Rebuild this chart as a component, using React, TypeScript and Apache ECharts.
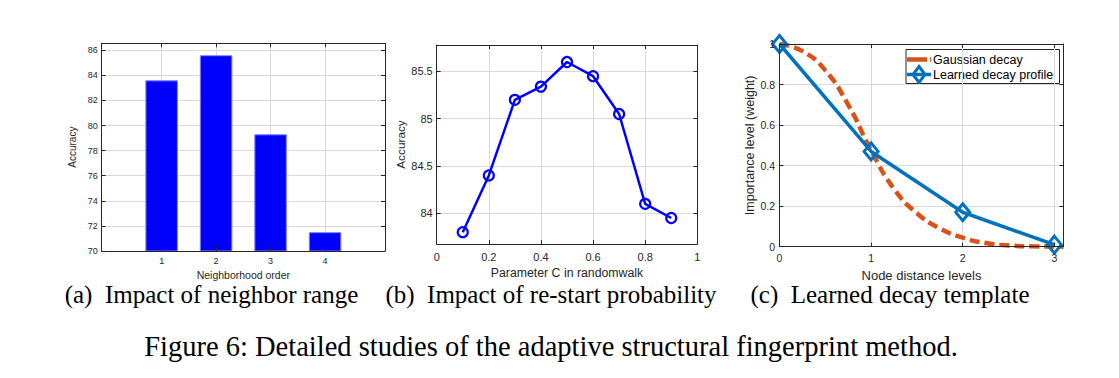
import React, { useEffect, useRef } from "react";
import * as echarts from "echarts";

// ---- Data ----
const neighborOrders = [1, 2, 3, 4];
const neighborAccuracy = [83.6, 85.6, 79.3, 71.5];
const neighborYTicks = [70, 72, 74, 76, 78, 80, 82, 84, 86];

const restartC = [0.1, 0.2, 0.3, 0.4, 0.5, 0.6, 0.7, 0.8, 0.9];
const restartAccuracy = [83.8, 84.4, 85.2, 85.34, 85.6, 85.45, 85.05, 84.1, 83.95];
const restartXTicks = [0, 0.2, 0.4, 0.6, 0.8, 1];
const restartYTicks = [84, 84.5, 85, 85.5];

const distanceLevels = [0, 1, 2, 3];
const learnedDecay = [1.0, 0.47, 0.17, 0.01];
const gaussianDistance = [0, 0.25, 0.5, 0.75, 1.0, 1.25, 1.5, 1.75, 2.0, 2.25, 2.5, 2.75, 3.0, 3.1];
const gaussianDecay = [1.0, 0.965, 0.87, 0.7, 0.475, 0.285, 0.165, 0.09, 0.045, 0.018, 0.006, 0.002, 0.001, 0.0];
const decayXTicks = [0, 1, 2, 3];
const decayYTicks = [0, 0.2, 0.4, 0.6, 0.8, 1];

const legendNames = ["Gaussian decay", "Learned decay profile"];
const subCaptions = [
  "(a)  Impact of neighbor range",
  "(b)  Impact of re-start probability",
  "(c)  Learned decay template",
];
const figureCaption = "Figure 6: Detailed studies of the adaptive structural fingerprint method.";

// ---- Styles ----
const SANS = '"Liberation Sans", Arial, Helvetica, sans-serif';
const SERIF = '"Liberation Serif", "Times New Roman", serif';
const AXIS = "#262626";
const GRIDC = "#d9d9d9";
const BLUE = "#0000ff";
const MBLUE = "#0072BD";
const ORANGE = "#D95319";

type AxisSpec = { min: number; max: number; ticks: number[]; font: number; margin: number; name: string; nameFont: number; nameGap: number };

function boxAxes(gridIndex: number, x: AxisSpec, y: AxisSpec) {
  const tick = (vals: number[]) => ({ show: true, inside: true, length: 4, customValues: vals, lineStyle: { color: AXIS, width: 1 } });
  const line = { show: true, onZero: false, lineStyle: { color: AXIS, width: 1 } };
  const xAxes = [
    {
      type: "value", gridIndex, position: "bottom", min: x.min, max: x.max, z: 5,
      axisLine: line, axisTick: tick(x.ticks),
      axisLabel: { customValues: x.ticks, fontSize: x.font, color: AXIS, margin: x.margin, fontFamily: SANS },
      splitLine: { show: false },
      name: x.name, nameLocation: "middle", nameGap: x.nameGap,
      nameTextStyle: { fontSize: x.nameFont, color: AXIS, fontFamily: SANS },
    },
    {
      type: "value", gridIndex, position: "top", min: x.min, max: x.max, z: 5,
      axisLine: line, axisTick: tick(x.ticks), axisLabel: { show: false }, splitLine: { show: false },
    },
  ];
  const yAxes = [
    {
      type: "value", gridIndex, position: "left", min: y.min, max: y.max, z: 5,
      axisLine: line, axisTick: tick(y.ticks),
      axisLabel: { customValues: y.ticks, fontSize: y.font, color: AXIS, margin: y.margin, fontFamily: SANS },
      splitLine: { show: false },
      name: y.name, nameLocation: "middle", nameGap: y.nameGap,
      nameTextStyle: { fontSize: y.nameFont, color: AXIS, fontFamily: SANS },
    },
    {
      type: "value", gridIndex, position: "right", min: y.min, max: y.max, z: 5,
      axisLine: line, axisTick: tick(y.ticks), axisLabel: { show: false }, splitLine: { show: false },
    },
  ];
  return { xAxes, yAxes };
}

// grid lines drawn through the axes' own scales (markLine at tick values)
function gridLines(axisIndex: number, xt: number[], yt: number[]) {
  return {
    type: "line",
    xAxisIndex: axisIndex,
    yAxisIndex: axisIndex,
    data: [],
    silent: true,
    z: 0,
    markLine: {
      z: 0,
      silent: true,
      symbol: ["none", "none"],
      label: { show: false },
      emphasis: { disabled: true },
      animation: false,
      lineStyle: { color: GRIDC, width: 1, type: "solid" },
      data: [...xt.map((v) => ({ xAxis: v })), ...yt.map((v) => ({ yAxis: v }))],
    },
  };
}

export default function App() {
  const ref = useRef<HTMLDivElement>(null);

  useEffect(() => {
    if (!ref.current) return;
    const chart = echarts.init(ref.current, undefined, { renderer: "svg" });

    const a = boxAxes(
      0,
      { min: -0.1, max: 5.1, ticks: neighborOrders, font: 9, margin: 5, name: "Neighborhood order", nameFont: 10.5, nameGap: 18 },
      { min: 70, max: 86.55, ticks: neighborYTicks, font: 9, margin: 4, name: "Accuracy", nameFont: 10, nameGap: 24 }
    );
    const b = boxAxes(
      1,
      { min: 0, max: 1, ticks: restartXTicks, font: 11, margin: 7, name: "Parameter C in randomwalk", nameFont: 12.3, nameGap: 20 },
      { min: 83.675, max: 85.78, ticks: restartYTicks, font: 11, margin: 4, name: "Accuracy", nameFont: 11.8, nameGap: 29 }
    );
    const c = boxAxes(
      2,
      { min: 0, max: 3.1, ticks: decayXTicks, font: 10.5, margin: 6, name: "Node distance levels", nameFont: 13, nameGap: 20 },
      { min: 0, max: 1, ticks: decayYTicks, font: 10.5, margin: 4.5, name: "Importance level (weight)", nameFont: 12.5, nameGap: 23 }
    );

    const legendX = 906;
    const legendY = 49.5;

    const option: any = {
      animation: false,
      backgroundColor: "#ffffff",
      textStyle: { fontFamily: SANS },
      grid: [
        { left: 101.7, top: 43.3, width: 283.3, height: 207.7 },
        { left: 436.7, top: 45, width: 260.6, height: 199 },
        { left: 779.5, top: 44, width: 284, height: 202.7 },
      ],
      xAxis: [...a.xAxes, ...b.xAxes, ...c.xAxes],
      yAxis: [...a.yAxes, ...b.yAxes, ...c.yAxes],
      series: [
        gridLines(0, neighborOrders, neighborYTicks),
        gridLines(2, restartXTicks, restartYTicks),
        gridLines(4, decayXTicks, decayYTicks),
        {
          type: "bar",
          xAxisIndex: 0,
          yAxisIndex: 0,
          barWidth: 32.5,
          data: neighborOrders.map((o, i) => [o, neighborAccuracy[i]]),
          itemStyle: { color: BLUE, borderColor: "#7f7fff", borderWidth: 1 },
          z: 2,
        },
        {
          type: "line",
          xAxisIndex: 2,
          yAxisIndex: 2,
          data: restartC.map((v, i) => [v, restartAccuracy[i]]),
          lineStyle: { color: BLUE, width: 2.5 },
          symbol: "circle",
          symbolSize: 10,
          itemStyle: { color: "rgba(0,0,0,0)", borderColor: BLUE, borderWidth: 2.2 },
          z: 3,
        },
        {
          name: legendNames[0],
          type: "line",
          xAxisIndex: 4,
          yAxisIndex: 4,
          data: gaussianDistance.map((v, i) => [v, gaussianDecay[i]]),
          smooth: true,
          showSymbol: false,
          symbol: "none",
          lineStyle: { color: ORANGE, width: 4.5, type: [10, 5] },
          z: 3,
        },
        {
          name: legendNames[1],
          type: "line",
          xAxisIndex: 4,
          yAxisIndex: 4,
          data: distanceLevels.map((v, i) => [v, learnedDecay[i]]),
          lineStyle: { color: MBLUE, width: 3.5 },
          symbol: "diamond",
          symbolSize: [14, 17],
          itemStyle: { color: "rgba(0,0,0,0)", borderColor: MBLUE, borderWidth: 3 },
          clip: false,
          z: 4,
        },
      ],
      graphic: [
        {
          type: "group",
          z: 100,
          children: [
            {
              type: "rect",
              shape: { x: legendX, y: legendY, width: 153.5, height: 34 },
              style: { fill: "#ffffff", stroke: "#262626", lineWidth: 1 },
            },
            {
              type: "line",
              shape: { x1: legendX + 1, y1: legendY + 10, x2: legendX + 25, y2: legendY + 10 },
              style: { stroke: ORANGE, lineWidth: 4.5, lineDash: [20, 3] },
            },
            {
              type: "line",
              shape: { x1: legendX + 1, y1: legendY + 25, x2: legendX + 25, y2: legendY + 25 },
              style: { stroke: MBLUE, lineWidth: 3.5 },
            },
            {
              type: "polygon",
              shape: {
                points: [
                  [legendX + 13, legendY + 17],
                  [legendX + 19, legendY + 25],
                  [legendX + 13, legendY + 33],
                  [legendX + 7, legendY + 25],
                ],
              },
              style: { fill: "rgba(0,0,0,0)", stroke: MBLUE, lineWidth: 3 },
            },
            {
              type: "text",
              x: legendX + 27,
              y: legendY + 10,
              style: { text: legendNames[0], fill: "#000", font: `12.5px ${SANS}`, align: "left", verticalAlign: "middle", textAlign: "left", textVerticalAlign: "middle" },
            },
            {
              type: "text",
              x: legendX + 27,
              y: legendY + 25,
              style: { text: legendNames[1], fill: "#000", font: `12.5px ${SANS}`, align: "left", verticalAlign: "middle", textAlign: "left", textVerticalAlign: "middle" },
            },
          ],
        },
        ...[211.5, 551, 890].map((cx, i) => ({
          type: "text",
          x: cx,
          y: 294,
          style: { text: subCaptions[i], fill: "#000", font: `25px ${SERIF}`, align: "center", verticalAlign: "middle", textAlign: "center", textVerticalAlign: "middle" },
        })),
        {
          type: "text",
          x: 551,
          y: 346.5,
          style: { text: figureCaption, fill: "#000", font: `28.5px ${SERIF}`, align: "center", verticalAlign: "middle", textAlign: "center", textVerticalAlign: "middle" },
        },
      ],
    };

    chart.setOption(option);
    return () => chart.dispose();
  }, []);

  return (
    <div
      ref={ref}
      style={{ position: "fixed", left: 0, top: 0, width: 1119, height: 378, background: "#fff" }}
    />
  );
}
